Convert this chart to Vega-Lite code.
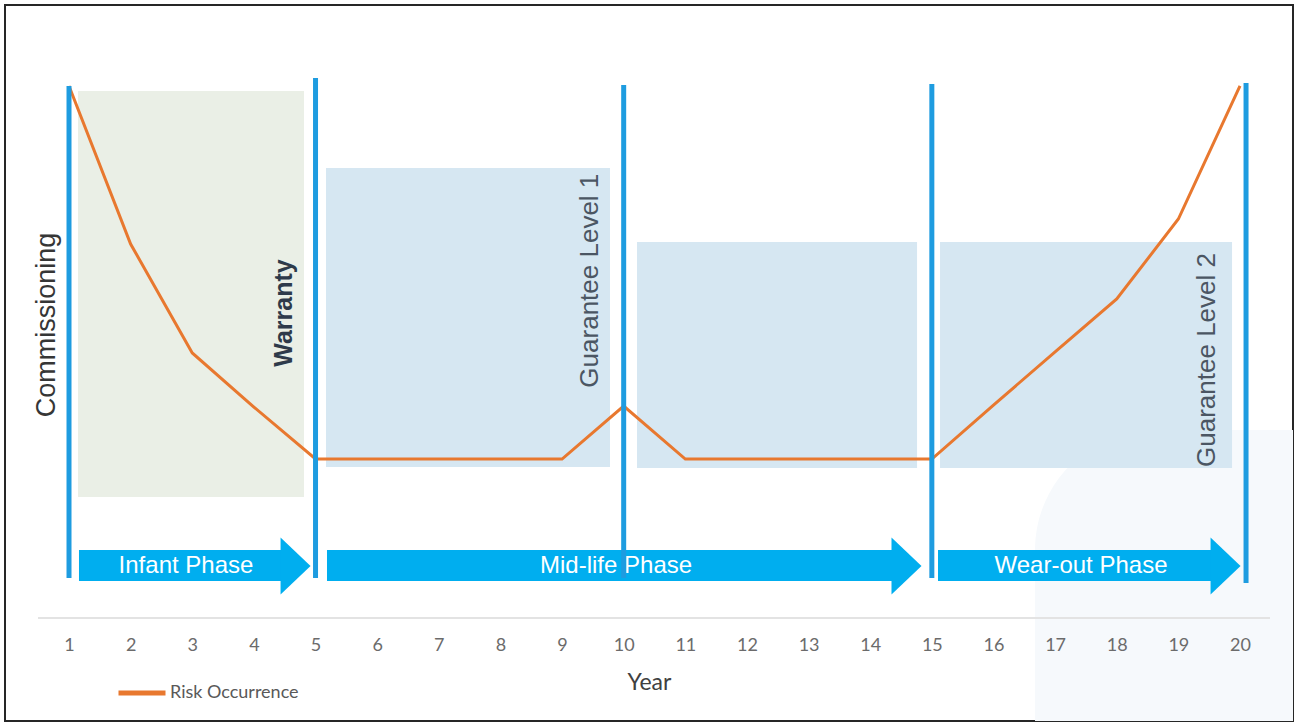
{
  "$schema": "https://vega.github.io/schema/vega-lite/v6.json",
  "width": 1297,
  "height": 724,
  "autosize": {"type": "fit", "contains": "padding"},
  "padding": {"left": 5, "top": 5, "right": 4, "bottom": 3},
  "background": "white",
  "config": {"view": {"stroke": "#262626", "strokeWidth": 2}, "font": "Liberation Sans"},
  "datasets": {
    "risk": [
      {"year": 1, "risk": 88.69, "series": "Risk Occurrence"},
      {"year": 2, "risk": 66.62, "series": "Risk Occurrence"},
      {"year": 3, "risk": 51.4, "series": "Risk Occurrence"},
      {"year": 4, "risk": 43.85, "series": "Risk Occurrence"},
      {"year": 5, "risk": 36.59, "series": "Risk Occurrence"},
      {"year": 6, "risk": 36.59, "series": "Risk Occurrence"},
      {"year": 7, "risk": 36.59, "series": "Risk Occurrence"},
      {"year": 8, "risk": 36.59, "series": "Risk Occurrence"},
      {"year": 9, "risk": 36.59, "series": "Risk Occurrence"},
      {"year": 10, "risk": 43.99, "series": "Risk Occurrence"},
      {"year": 11, "risk": 36.59, "series": "Risk Occurrence"},
      {"year": 12, "risk": 36.59, "series": "Risk Occurrence"},
      {"year": 13, "risk": 36.59, "series": "Risk Occurrence"},
      {"year": 14, "risk": 36.59, "series": "Risk Occurrence"},
      {"year": 15, "risk": 36.59, "series": "Risk Occurrence"},
      {"year": 16, "risk": 44.13, "series": "Risk Occurrence"},
      {"year": 17, "risk": 51.54, "series": "Risk Occurrence"},
      {"year": 18, "risk": 58.94, "series": "Risk Occurrence"},
      {"year": 19, "risk": 70.11, "series": "Risk Occurrence"},
      {"year": 20, "risk": 88.69, "series": "Risk Occurrence"}
    ],
    "zones": [
      {"zone": "Infant", "x1": 1.146, "x2": 4.813, "y1": 31.28, "y2": 87.99},
      {"zone": "Mid-life A", "x1": 5.17, "x2": 9.778, "y1": 35.47, "y2": 77.23},
      {"zone": "Mid-life B", "x1": 10.216, "x2": 14.76, "y1": 35.34, "y2": 66.9},
      {"zone": "Wear-out", "x1": 15.133, "x2": 19.871, "y1": 35.34, "y2": 66.9}
    ],
    "arrows": [
      {"phase": "Infant Phase", "start": 1.162, "end": 4.47, "tip": 4.919, "mid": 2.898, "lo": 19.55, "hi": 23.88, "c": 21.65},
      {"phase": "Mid-life Phase", "start": 5.186, "end": 14.4, "tip": 14.832, "mid": 9.876, "lo": 19.55, "hi": 23.88, "c": 21.65},
      {"phase": "Wear-out Phase", "start": 15.1, "end": 19.56, "tip": 20.009, "mid": 17.42, "lo": 19.55, "hi": 23.88, "c": 21.65}
    ],
    "milestones": [
      {"year": 1, "top": 88.69, "bottom": 19.97},
      {"year": 5, "top": 89.8, "bottom": 19.97},
      {"year": 10, "top": 88.83, "bottom": 19.97},
      {"year": 15, "top": 88.97, "bottom": 19.97},
      {"year": 20.098, "top": 89.11, "bottom": 19.27}
    ],
    "labels": [
      {"label": "Commissioning", "x": 0.651, "y": 55.31, "kind": "a"},
      {"label": "Warranty", "x": 4.489, "y": 56.98, "kind": "b"},
      {"label": "Guarantee Level 1", "x": 9.454, "y": 61.5, "kind": "c"},
      {"label": "Guarantee Level 2", "x": 19.465, "y": 50.42, "kind": "c"}
    ]
  },
  "layer": [
    {
      "data": {"values": [{"x1": 16.674, "x2": 20.86, "y1": 0, "y2": 40.64}]},
      "mark": {"type": "rect", "fill": "#f6f9fc", "cornerRadiusTopLeft": 120},
      "encoding": {
        "x": {
          "field": "x1", "type": "quantitative",
          "scale": {"domain": [-0.0385, 20.86], "nice": false, "zero": false},
          "axis": {
            "orient": "bottom", "offset": -85, "values": [1,2,3,4,5,6,7,8,9,10,11,12,13,14,15,16,17,18,19,20],
            "format": "d", "domain": false, "ticks": false, "tickSize": 0, "grid": false, "labelPadding": 0,
            "labelFont": "Lato", "labelFontSize": 18, "labelColor": "#6b6b6b", "labelFlush": false, "labelOverlap": false,
            "title": "Year", "titleFont": "Lato", "titleFontSize": 23, "titleFontWeight": "normal", "titleColor": "#404040",
            "titleY": 46, "titleBaseline": "middle", "zindex": 1
          }
        },
        "x2": {"field": "x2"},
        "y": {"field": "y1", "type": "quantitative", "scale": {"domain": [0, 100], "nice": false, "zero": false}, "axis": null},
        "y2": {"field": "y2"}
      }
    },
    {
      "data": {"name": "zones"},
      "transform": [{"filter": "datum.zone === 'Infant'"}],
      "mark": {"type": "rect", "fill": "#eaefe6"},
      "encoding": {
        "x": {"field": "x1", "type": "quantitative"},
        "x2": {"field": "x2"},
        "y": {"field": "y1", "type": "quantitative", "axis": null},
        "y2": {"field": "y2"}
      }
    },
    {
      "data": {"name": "zones"},
      "transform": [{"filter": "datum.zone !== 'Infant'"}],
      "mark": {"type": "rect", "fill": "#d6e7f2"},
      "encoding": {
        "x": {"field": "x1", "type": "quantitative"},
        "x2": {"field": "x2"},
        "y": {"field": "y1", "type": "quantitative", "axis": null},
        "y2": {"field": "y2"}
      }
    },
    {
      "data": {"values": [{"x1": 0.497, "x2": 20.487, "y": 14.39}]},
      "mark": {"type": "rule", "stroke": "#e3e3e3", "strokeWidth": 2},
      "encoding": {
        "x": {"field": "x1", "type": "quantitative"},
        "x2": {"field": "x2"},
        "y": {"field": "y", "type": "quantitative", "axis": null}
      }
    },
    {
      "data": {"name": "arrows"},
      "mark": {"type": "rect", "fill": "#00aeef"},
      "encoding": {
        "x": {"field": "start", "type": "quantitative"},
        "x2": {"field": "end"},
        "y": {"field": "lo", "type": "quantitative", "axis": null},
        "y2": {"field": "hi"}
      }
    },
    {
      "data": {"name": "arrows"},
      "mark": {"type": "point", "shape": "M-1,-0.95L0,0L-1,0.95Z", "size": 3600, "filled": true, "fill": "#00aeef", "opacity": 1, "strokeWidth": 0},
      "encoding": {
        "x": {"field": "tip", "type": "quantitative"},
        "y": {"field": "c", "type": "quantitative", "axis": null}
      }
    },
    {
      "data": {"name": "arrows"},
      "mark": {"type": "text", "color": "white", "fontSize": 24, "font": "Liberation Sans", "align": "center", "baseline": "middle"},
      "encoding": {
        "x": {"field": "mid", "type": "quantitative"},
        "y": {"field": "c", "type": "quantitative", "axis": null},
        "text": {"field": "phase"}
      }
    },
    {
      "data": {"name": "risk"},
      "mark": {"type": "line", "strokeWidth": 3},
      "encoding": {
        "x": {"field": "year", "type": "quantitative"},
        "y": {"field": "risk", "type": "quantitative", "axis": null},
        "color": {
          "field": "series", "type": "nominal",
          "scale": {"domain": ["Risk Occurrence"], "range": ["#e8782f"]},
          "legend": {
            "orient": "none", "legendX": 111, "legendY": 662, "title": null, "padding": 0,
            "symbolType": "stroke", "symbolSize": 2209, "symbolStrokeWidth": 5,
            "labelFont": "Lato", "labelFontSize": 18, "labelColor": "#595959", "labelOffset": 2
          }
        }
      }
    },
    {
      "data": {"name": "milestones"},
      "mark": {"type": "rule", "stroke": "#1e9ce0", "strokeWidth": 5},
      "encoding": {
        "x": {"field": "year", "type": "quantitative"},
        "y": {"field": "bottom", "type": "quantitative", "axis": null},
        "y2": {"field": "top"}
      }
    },
    {
      "data": {"name": "labels"},
      "transform": [{"filter": "datum.kind === 'a'"}],
      "mark": {"type": "text", "angle": 270, "fontSize": 27, "font": "Liberation Sans", "color": "#363636", "align": "center", "baseline": "middle"},
      "encoding": {
        "x": {"field": "x", "type": "quantitative"},
        "y": {"field": "y", "type": "quantitative", "axis": null},
        "text": {"field": "label"}
      }
    },
    {
      "data": {"name": "labels"},
      "transform": [{"filter": "datum.kind === 'b'"}],
      "mark": {"type": "text", "angle": 270, "fontSize": 25, "fontWeight": "bold", "font": "Liberation Sans", "color": "#2e3a4a", "align": "center", "baseline": "middle"},
      "encoding": {
        "x": {"field": "x", "type": "quantitative"},
        "y": {"field": "y", "type": "quantitative", "axis": null},
        "text": {"field": "label"}
      }
    },
    {
      "data": {"name": "labels"},
      "transform": [{"filter": "datum.kind === 'c'"}],
      "mark": {"type": "text", "angle": 270, "fontSize": 26, "font": "Liberation Sans", "color": "#4b5663", "align": "center", "baseline": "middle"},
      "encoding": {
        "x": {"field": "x", "type": "quantitative"},
        "y": {"field": "y", "type": "quantitative", "axis": null},
        "text": {"field": "label"}
      }
    }
  ]
}
